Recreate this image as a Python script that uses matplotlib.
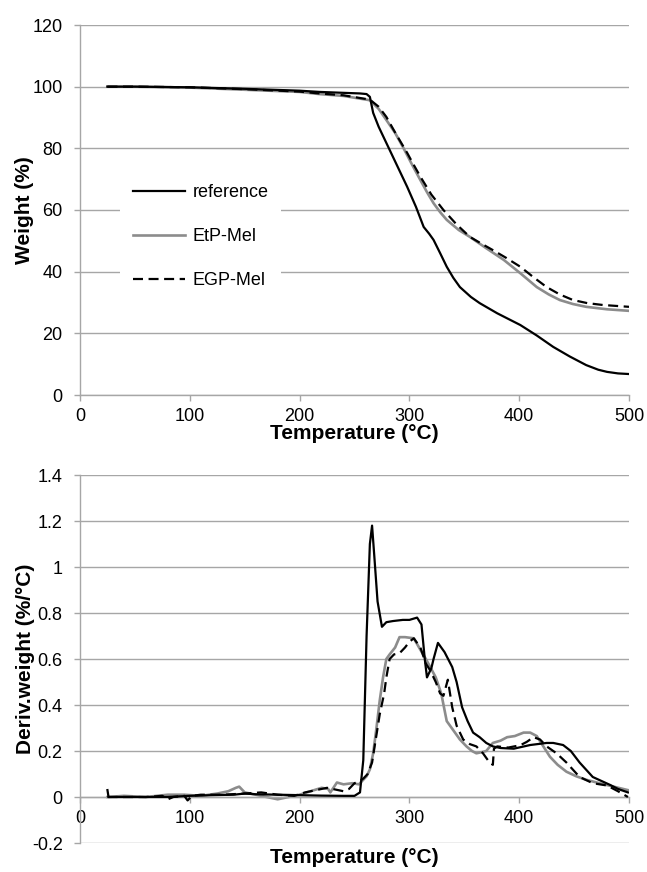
import matplotlib
matplotlib.use("Agg")
import matplotlib.pyplot as plt
from matplotlib.ticker import FuncFormatter

plt.rcParams['font.family'] = ['Liberation Sans', 'DejaVu Sans']

# TGA weight curves (upper chart)
temp_ref = [25, 50, 100, 150, 200, 218, 240, 255, 261, 264, 267, 272, 282, 290, 298, 306, 313, 318, 322,
            328, 334, 340, 346, 356, 364, 380, 401, 416, 431, 446, 461, 472, 480, 490, 500]
wt_ref = [100, 100, 99.8, 99.3, 98.7, 98.3, 98.0, 97.8, 97.6, 96.7, 91.5, 87.0, 79.5, 73.5, 67.5, 61.0,
          54.5, 52.3, 50.3, 46.0, 41.6, 38.0, 35.0, 31.8, 29.8, 26.5, 22.7, 19.3, 15.6, 12.5, 9.7, 8.2,
          7.5, 7.0, 6.8]

temp_etp = [25, 50, 100, 150, 200, 218, 240, 264, 272, 279, 287, 294, 302, 310, 316, 322, 328, 334, 345,
            355, 370, 386, 401, 416, 427, 437, 449, 461, 480, 500]
wt_etp = [100, 100, 99.7, 99.0, 98.3, 97.6, 97.0, 95.6, 92.8, 89.2, 85.0, 80.5, 75.0, 69.7, 65.8, 62.2,
          59.3, 56.8, 53.5, 51.3, 47.6, 43.8, 39.5, 35.0, 32.6, 30.8, 29.5, 28.6, 27.8, 27.3]

temp_egp = [25, 50, 100, 150, 200, 218, 240, 264, 272, 279, 288, 298, 304, 310, 320, 331, 343, 355, 366,
            376, 388, 401, 413, 425, 437, 449, 462, 476, 500]
wt_egp = [100, 100, 99.8, 99.2, 98.4, 97.8, 97.2, 95.8, 93.5, 90.2, 84.5, 78.5, 74.6, 70.8, 65.0, 60.0,
          55.3, 51.3, 49.0, 47.0, 44.5, 41.6, 38.2, 35.0, 32.6, 30.8, 29.8, 29.2, 28.6]

# DTG derivative curves (lower chart)
dtemp_ref = [25, 26, 28, 40, 60, 80, 100, 120, 140, 150, 160, 180, 200, 220, 240, 250, 255, 258, 261,
             264, 266, 268, 271, 275, 279, 285, 294, 300, 307, 311, 314, 316, 320, 322, 326, 332, 339,
             343, 348, 353, 358, 364, 370, 376, 383, 395, 410, 425, 431, 440, 447, 455, 467, 483, 490, 499]
deriv_ref = [0.03, 0.0, 0.0, 0.0, 0.0, 0.0, 0.005, 0.008, 0.01, 0.015, 0.012, 0.01, 0.008, 0.006, 0.005,
             0.005, 0.02, 0.16, 0.7, 1.1, 1.18, 1.05, 0.85, 0.74, 0.76, 0.765, 0.77, 0.77, 0.78, 0.75,
             0.6, 0.52, 0.56, 0.6, 0.67, 0.63, 0.565, 0.5, 0.39, 0.33, 0.28, 0.26, 0.235, 0.22, 0.213,
             0.21, 0.226, 0.235, 0.235, 0.226, 0.2, 0.15, 0.087, 0.052, 0.035, 0.02]

dtemp_etp = [25, 40, 60, 80, 95, 110, 125, 135, 142, 145, 150, 160, 170, 180, 190, 200, 210, 220, 226,
             228, 234, 240, 248, 254, 261, 264, 267, 270, 273, 276, 279, 282, 287, 291, 296, 304, 310,
             315, 319, 324, 329, 334, 340, 346, 352, 357, 361, 366, 370, 376, 383, 389, 396, 404, 410,
             416, 422, 428, 435, 443, 452, 461, 473, 486, 499]
deriv_etp = [0.0, 0.005, 0.0, 0.01, 0.01, 0.005, 0.015, 0.025, 0.04, 0.045, 0.02, 0.01, 0.0, -0.01, 0.0,
             0.01, 0.025, 0.04, 0.035, 0.02, 0.063, 0.055, 0.06, 0.055, 0.09, 0.12, 0.19, 0.3, 0.42,
             0.52, 0.6, 0.62, 0.65, 0.695, 0.695, 0.69, 0.64, 0.6, 0.565, 0.52, 0.45, 0.33, 0.29, 0.25,
             0.22, 0.2, 0.19, 0.195, 0.2, 0.235, 0.245, 0.26, 0.265, 0.28, 0.28, 0.265, 0.22, 0.175,
             0.14, 0.11, 0.09, 0.075, 0.06, 0.045, 0.03]

dtemp_egp = [25, 40, 60, 75, 80, 85, 95, 98, 102, 110, 130, 150, 165, 180, 195, 205, 215, 225, 235, 240,
             245, 250, 255, 258, 262, 266, 270, 273, 277, 279, 282, 286, 291, 296, 300, 304, 310, 315,
             319, 324, 328, 331, 335, 339, 343, 349, 355, 361, 367, 373, 376, 377, 380, 390, 401, 407,
             413, 419, 425, 434, 443, 455, 467, 480, 490, 499]
deriv_egp = [0.0, 0.0, 0.0, 0.005, -0.01, 0.0, 0.005, -0.015, 0.005, 0.01, 0.01, 0.015, 0.02, 0.01, 0.005,
             0.02, 0.03, 0.04, 0.03, 0.025, 0.035, 0.06, 0.07, 0.08, 0.1, 0.15, 0.27, 0.36, 0.45, 0.52,
             0.6, 0.62, 0.625, 0.65, 0.675, 0.69, 0.65, 0.58, 0.55, 0.5, 0.45, 0.44, 0.51, 0.39, 0.31,
             0.25, 0.23, 0.22, 0.19, 0.15, 0.14, 0.21, 0.22, 0.215, 0.225, 0.24, 0.26, 0.25, 0.22, 0.19,
             0.15, 0.087, 0.06, 0.05, 0.025, 0.0]

series_names = ['reference', 'EtP-Mel', 'EGP-Mel']

GRID = '#a6a6a6'
GRAY = '#8c8c8c'
LW = 1.6


def style_axes(ax):
    for side in ['top', 'right']:
        ax.spines[side].set_visible(False)
    for side in ['left', 'bottom']:
        ax.spines[side].set_color(GRID)
        ax.spines[side].set_linewidth(1.0)
    ax.yaxis.grid(True, color=GRID, linewidth=1.0, zorder=0)
    ax.set_axisbelow(True)
    ax.tick_params(axis='both', colors=GRID, labelcolor='black', labelsize=13,
                   direction='out', length=4, width=1.0)
    ax.tick_params(axis='y', pad=8.5)
    ax.tick_params(axis='x', pad=5)
    ax.set_xlim(0, 500)
    ax.set_xticks([0, 100, 200, 300, 400, 500])


fig = plt.figure(figsize=(6.47, 8.72), dpi=100)
ax1 = fig.add_axes([80/647, 1-395/872, 549/647, 370/872])
ax2 = fig.add_axes([80/647, 1-843/872, 549/647, 368/872])

# upper chart
ax1.plot(temp_ref, wt_ref, color='black', lw=LW, label=series_names[0], zorder=3)
ax1.plot(temp_etp, wt_etp, color=GRAY, lw=1.9, label=series_names[1], zorder=2)
ax1.plot(temp_egp, wt_egp, color='black', lw=LW, dashes=(4.5, 2.5), label=series_names[2], zorder=4)
style_axes(ax1)
ax1.set_ylim(0, 120)
ax1.set_yticks(range(0, 121, 20))
ax1.set_xlabel('Temperature (°C)', fontsize=15, fontweight='bold')
ax1.set_ylabel('Weight (%)', fontsize=15, fontweight='bold')
ax1.xaxis.set_label_coords(0.5, -0.078)
ax1.yaxis.set_label_coords(-0.084, 0.5)
leg = ax1.legend(loc='center left', bbox_to_anchor=(0.073, 0.428), fontsize=13, frameon=True,
                 facecolor='white', edgecolor='none', framealpha=1, fancybox=False,
                 handlelength=2.9, handletextpad=0.4, labelspacing=1.5, borderpad=0.7,
                 borderaxespad=0)

# lower chart
ax2.plot(dtemp_ref, deriv_ref, color='black', lw=LW, zorder=3)
ax2.plot(dtemp_etp, deriv_etp, color=GRAY, lw=1.9, zorder=2)
ax2.plot(dtemp_egp, deriv_egp, color='black', lw=LW, dashes=(4.5, 2.5), zorder=4)
style_axes(ax2)
ax2.set_ylim(-0.2, 1.4)
ax2.set_yticks([-0.2, 0, 0.2, 0.4, 0.6, 0.8, 1.0, 1.2, 1.4])
ax2.yaxis.set_major_formatter(FuncFormatter(lambda v, p: '%g' % round(v, 1)))
ax2.spines['bottom'].set_position(('data', 0))
ax2.set_xlabel('Temperature (°C)', fontsize=15, fontweight='bold')
ax2.set_ylabel('Deriv.weight (%/°C)', fontsize=15, fontweight='bold')
ax2.xaxis.set_label_coords(0.5, -0.014)
ax2.yaxis.set_label_coords(-0.082, 0.5)

fig.savefig('out.png', dpi=100)
